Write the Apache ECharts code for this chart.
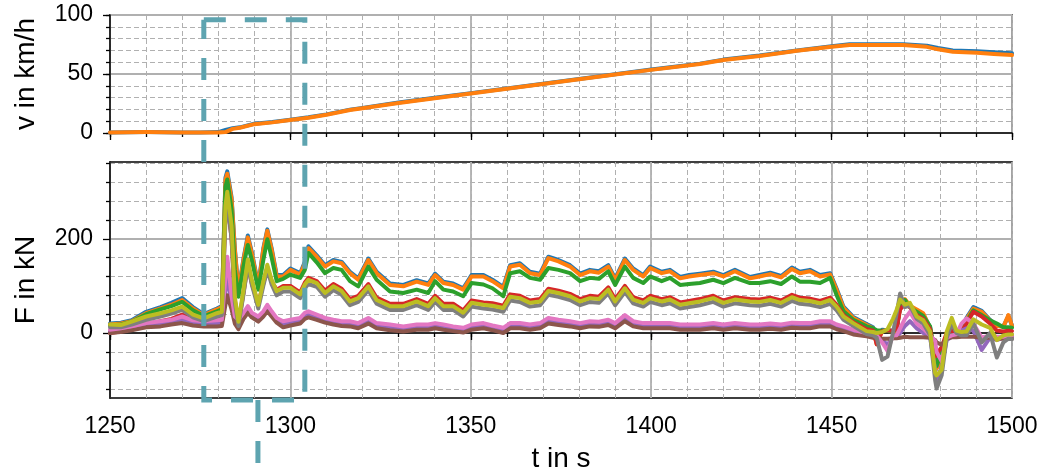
<!DOCTYPE html>
<html>
<head>
<meta charset="utf-8">
<script src="https://cdn.jsdelivr.net/npm/echarts@6/dist/echarts.min.js"></script>
<style>
  html, body { margin: 0; padding: 0; background: #fff; }
  #chart { width: 1041px; height: 475px; }
</style>
</head>
<body>
<div id="chart"></div>
<script>
// speed (top panel)
const tV = [1250, 1260, 1270, 1275, 1280, 1282, 1284, 1286, 1290, 1295,
  1300, 1305, 1310, 1316.5, 1320, 1330, 1340, 1350, 1360, 1370,
  1380, 1390, 1400, 1413.5, 1420, 1430, 1440.4, 1450, 1455, 1459.8,
  1465, 1469.8, 1476.4, 1479.5, 1483.6, 1490.3, 1495, 1500];
const vBlue = [0.5, 0.8, 0.5, 0.5, 0.8, 2.5, 4, 4.8, 7.8, 9.3,
  11.3, 13.3, 15.8, 19.8, 21.3, 25.8, 29.8, 33.8, 37.8, 41.8,
  45.8, 49.8, 53.8, 58.8, 62.2, 65.6, 70, 73.5, 75.3, 75.3,
  75.2, 75.2, 74, 72, 70, 69.3, 68.5, 67.5];
const vOrange = [0.5, 0.8, 0.5, 0.5, 0.5, 0.8, 3.5, 4.5, 7.5, 9,
  11, 13, 15.5, 19.5, 21, 25.5, 29.5, 33.5, 37.5, 41.5,
  45.5, 49.5, 53.5, 58.5, 61.9, 65.3, 69.7, 73, 74.5, 74.5,
  74.5, 74.5, 73, 70.9, 68.9, 68, 67, 66];

// forces (bottom panel)
const tF = [1250, 1253, 1256, 1260, 1264, 1267, 1270, 1273, 1276, 1279.6,
  1281, 1282, 1282.5, 1283.7, 1284.6, 1285.6, 1287, 1288.2, 1289.3, 1291.1,
  1292.5, 1293.6, 1294.8, 1296.2, 1298, 1300, 1302.7, 1304, 1305, 1307.3,
  1309.6, 1311.9, 1314.2, 1316.5, 1318.8, 1321.6, 1323.9, 1327.6, 1331.3, 1335,
  1338.2, 1340.1, 1342.4, 1345.1, 1347.9, 1350.2, 1353.5, 1356, 1359, 1360.9,
  1363.6, 1366.4, 1369.2, 1371.5, 1374.3, 1377.5, 1380.3, 1383, 1385.5, 1388.1,
  1390, 1392.7, 1395, 1397.8, 1399.7, 1402.9, 1405.2, 1408, 1410.5, 1413.5,
  1417.2, 1420, 1423.2, 1427.4, 1430, 1433, 1436, 1439, 1441.2, 1444,
  1446.8, 1449.6, 1451.4, 1453.3, 1456, 1459.7, 1461.5, 1462.5, 1464, 1465.5,
  1467, 1468, 1469, 1470.3, 1471.7, 1473.6, 1475.4, 1477.3, 1478.7, 1479.1,
  1480.5, 1481.9, 1483.3, 1484.6, 1486, 1487.4, 1489.3, 1491.6, 1493.9, 1495.8,
  1497.6, 1499, 1500];
const fBlue = [20, 22, 27, 45, 55, 64, 74, 55, 40, 52,
  57, 330, 343, 288, 180, 90, 158, 207, 172, 102,
  180, 220, 180, 123, 123, 137, 127, 151, 184, 165,
  144, 155, 151, 130, 116, 158, 130, 105, 102, 112,
  105, 126, 109, 105, 95, 123, 123, 113, 98, 144,
  148, 130, 126, 162, 155, 144, 126, 134, 131, 144,
  116, 158, 137, 123, 141, 130, 134, 119, 123, 126,
  130, 123, 134, 119, 123, 128, 121, 139, 130, 134,
  123, 127, 94, 56, 34, 19, 12, -20, 7, 6,
  5, 7, 58, 70, 57, 48, 40, 12, -65, -70,
  -55, -8, 3, 4, 3, 32, 55, 47, 28, 16,
  14, 36, 16];
const fOrange = [18, 20, 25, 42, 52, 60, 70, 52, 38, 50,
  55, 325, 338, 283, 177, 87, 155, 203, 169, 99,
  177, 217, 177, 120, 120, 134, 124, 148, 180, 162,
  141, 152, 148, 127, 113, 155, 127, 102, 99, 109,
  102, 123, 106, 102, 92, 120, 120, 110, 95, 141,
  145, 127, 123, 159, 152, 141, 123, 131, 128, 141,
  113, 155, 134, 120, 138, 127, 131, 116, 120, 123,
  127, 120, 131, 116, 120, 125, 118, 136, 127, 131,
  120, 124, 91, 53, 32, 17, 10, -24, 5, 4,
  3, 5, 60, 72, 58, 50, 42, 10, -70, -75,
  -60, -10, 2, 3, 2, 30, 52, 45, 27, 15,
  13, 38, 15];
const fGreen = [16, 18, 24, 40, 50, 57, 66, 48, 36, 46,
  50, 310, 326, 262, 135, 77, 142, 187, 155, 92,
  155, 199, 160, 110, 115, 124, 117, 134, 170, 150,
  127, 138, 134, 110, 99, 141, 113, 88, 85, 92,
  85, 110, 92, 88, 78, 106, 103, 95, 78, 127,
  131, 117, 113, 138, 134, 127, 110, 117, 115, 131,
  102, 141, 117, 106, 120, 110, 117, 102, 104, 106,
  113, 106, 117, 106, 106, 110, 104, 120, 109, 109,
  106, 117, 80, 46, 28, 14, 10, 6, 5, 4,
  4, 8, 55, 70, 55, 45, 36, 14, -50, -70,
  -40, -8, 2, 2, 3, 25, 48, 38, 27, 20,
  12, 12, 11];
const fRed = [0, 3, 8, 18, 25, 30, 39, 30, 28, 35,
  38, 250, 280, 200, 70, 20, 85, 145, 105, 62,
  105, 138, 110, 92, 100, 100, 86, 107, 117, 110,
  90, 104, 94, 72, 79, 104, 75, 62, 62, 72,
  62, 79, 62, 62, 48, 69, 65, 63, 58, 82,
  79, 69, 72, 94, 90, 83, 72, 79, 77, 97,
  72, 100, 76, 69, 79, 72, 76, 65, 68, 72,
  79, 69, 76, 72, 71, 75, 69, 81, 75, 73,
  68, 75, 60, 38, 23, 8, 5, -24, 4, 6,
  5, 8, 50, 62, 55, 38, 30, 8, -50, -45,
  -30, 0, 5, 4, 3, 20, 45, 35, 20, 5,
  3, 5, 4];
const fPurple = [3, 6, 10, 16, 19, 22, 28, 21, 19, 20,
  21, 90, 120, 63, 27, 18, 36, 50, 38, 30,
  40, 53, 40, 27, 18, 22, 26, 36, 40, 33,
  27, 23, 20, 19, 15, 26, 15, 12, 8, 12,
  12, 15, 12, 9, 6, 12, 15, 11, 5, 15,
  15, 12, 15, 26, 22, 19, 15, 19, 18, 22,
  15, 31, 19, 15, 15, 15, 15, 12, 12, 12,
  15, 12, 15, 12, 12, 14, 12, 16, 15, 15,
  19, 19, 13, 9, 2, -4, -6, -8, -15, -25,
  -8, -8, 0, 15, 25, 10, 0, -8, -80, -110,
  -70, -15, -8, -6, 5, 10, 5, -36, -10, -15,
  -10, -8, -8];
const fBrown = [0, 2, 6, 12, 14, 18, 21, 16, 14, 14,
  15, 60, 80, 50, 20, 8, 30, 43, 33, 24,
  35, 46, 35, 22, 12, 16, 20, 30, 33, 28,
  22, 18, 15, 14, 10, 20, 10, 6, 3, 7,
  7, 10, 7, 4, 1, 7, 10, 6, 0, 10,
  10, 7, 10, 20, 17, 14, 10, 14, 13, 17,
  10, 25, 14, 10, 10, 10, 10, 7, 7, 7,
  10, 7, 10, 7, 7, 9, 7, 11, 10, 10,
  14, 14, 8, 4, -3, -7, -10, -11, -12, -12,
  -11, -11, -10, -8, -9, -9, -9, -10, -15, -20,
  -25, -12, -9, -9, -8, -8, -8, -10, -10, -12,
  -12, -12, -12];
const fPink = [7, 10, 14, 21, 25, 28, 35, 27, 25, 27,
  28, 120, 162, 77, 35, 28, 43, 57, 43, 35,
  46, 60, 46, 32, 25, 28, 32, 43, 46, 39,
  32, 28, 25, 25, 21, 32, 21, 18, 14, 18,
  18, 21, 18, 14, 11, 18, 21, 16, 11, 21,
  21, 18, 21, 32, 28, 25, 21, 25, 24, 28,
  21, 38, 25, 21, 21, 21, 21, 18, 18, 18,
  21, 18, 21, 18, 18, 20, 18, 22, 21, 21,
  25, 25, 18, 14, 7, 0, -3, -5, -20, -38,
  -5, -5, 10, 30, 45, 20, 10, -5, -17, -40,
  -60, -10, -5, -3, 20, 31, 20, -10, -5, -8,
  -8, -5, -5];
const fGray = [12, 12, 18, 28, 35, 41, 49, 33, 25, 35,
  38, 240, 280, 200, 65, 15, 82, 145, 103, 52,
  100, 135, 103, 80, 88, 88, 74, 95, 104, 98,
  77, 91, 81, 59, 66, 91, 62, 49, 49, 59,
  49, 66, 49, 49, 35, 56, 52, 50, 45, 69,
  66, 56, 59, 81, 77, 70, 59, 66, 64, 84,
  59, 87, 63, 56, 66, 59, 63, 52, 55, 59,
  66, 56, 63, 59, 58, 62, 56, 68, 62, 60,
  55, 62, 48, 28, 15, -2, -5, -10, -57, -50,
  0, 40, 84, 55, 58, 30, 20, -5, -100, -118,
  -90, -10, 20, 0, -5, -5, 20, -20, 0, -52,
  -20, -12, -13];
const fOlive = [18, 17, 24, 35, 42, 48, 56, 39, 31, 42,
  45, 270, 300, 227, 77, 24, 92, 156, 113, 60,
  110, 145, 113, 89, 96, 96, 82, 103, 113, 106,
  85, 99, 89, 67, 74, 99, 70, 57, 57, 67,
  57, 74, 57, 57, 43, 64, 60, 58, 53, 77,
  74, 64, 67, 89, 85, 78, 67, 74, 72, 92,
  67, 95, 71, 64, 74, 67, 71, 60, 63, 67,
  74, 64, 71, 67, 66, 70, 64, 76, 70, 68,
  63, 70, 56, 35, 21, 4, 2, 0, 2, 8,
  30, 49, 71, 60, 64, 35, 27, 3, -85, -90,
  -78, 3, 32, 5, 2, 3, 29, 18, 11, -15,
  -5, -3, -3];

// ticks
const fMajor = [0, 200];
const fMinor = [-120, -80, -40, 40, 80, 120, 160, 240, 280, 320, 360];

// zoom box (data units)
const boxT = [1276, 1304];
const boxV = 96;
const boxF = -142;
const linkT = 1291;
const linkF = -340;

const FONT = 'Liberation Sans, Arial, sans-serif';
const GRID_C = '#b0b0b0';
const tick = (len) => ({ show: true, inside: false, length: len, lineStyle: { color: '#000', width: 1.3 } });
const minorSplit = { show: true, lineStyle: { color: GRID_C, width: 1, type: [5, 3] } };
const majorSplit = { show: true, lineStyle: { color: GRID_C, width: 1.8 } };
const noLine = { show: false };
const blackLine = { show: true, lineStyle: { color: '#000', width: 1.5 } };
const lbl = (margin) => ({ show: true, color: '#000', fontSize: 23, fontFamily: FONT, margin,
  formatter: (v) => String(v) });
const titleStyle = { fontSize: 28, color: '#000', fontFamily: FONT };

const xMinor = (g) => ({
  type: 'value', gridIndex: g, position: 'bottom', min: 1250, max: 1500, interval: 10,
  axisLine: noLine, axisTick: tick(4), axisLabel: { show: false }, splitLine: minorSplit
});
const xMajor = (g, withLabels) => ({
  type: 'value', gridIndex: g, position: 'bottom', min: 1250, max: 1500, interval: 50,
  axisLine: blackLine, axisTick: tick(7),
  axisLabel: withLabels ? lbl(17) : { show: false }, splitLine: majorSplit
});

const pairs = (t, arr) => t.map((x, i) => [x, arr[i]]);
const line = (name, color, t, arr, xi, yi) => ({
  name, type: 'line', xAxisIndex: xi, yAxisIndex: yi, data: pairs(t, arr),
  showSymbol: false, symbol: 'none', clip: true,
  lineStyle: { color, width: 4, join: 'round', cap: 'round' },
  emphasis: { disabled: true }
});

const chart = echarts.init(document.getElementById('chart'));
const option = {
  animation: false,
  backgroundColor: '#fff',
  grid: [
    { left: 110, right: 29, top: 15, height: 118, show: true, borderColor: '#000', borderWidth: 1.5, backgroundColor: 'transparent' },
    { left: 110, right: 29, top: 162, height: 236, show: true, borderColor: '#000', borderWidth: 1.5, backgroundColor: 'transparent' }
  ],
  xAxis: [
    xMinor(0), xMajor(0, false),
    xMinor(1),
    Object.assign(xMajor(1, true), {
      name: 't in s', nameLocation: 'middle', nameGap: 47, nameTextStyle: titleStyle
    })
  ],
  yAxis: [
    { type: 'value', gridIndex: 0, position: 'left', min: 0, max: 100, interval: 10,
      axisLine: noLine, axisTick: tick(4), axisLabel: { show: false }, splitLine: minorSplit },
    { type: 'value', gridIndex: 0, position: 'left', min: 0, max: 100, interval: 50,
      axisLine: blackLine, axisTick: tick(7), axisLabel: lbl(17), splitLine: majorSplit,
      name: 'v in km/h', nameLocation: 'middle', nameGap: 70, nameTextStyle: titleStyle },
    { type: 'value', gridIndex: 1, position: 'left', min: -138, max: 363,
      axisLine: noLine,
      axisTick: Object.assign(tick(4), { customValues: fMinor }),
      axisLabel: { show: false }, splitLine: minorSplit },
    { type: 'value', gridIndex: 1, position: 'left', min: -138, max: 363,
      axisLine: blackLine,
      axisTick: Object.assign(tick(7), { customValues: fMajor }),
      axisLabel: Object.assign(lbl(17), { customValues: fMajor }),
      splitLine: majorSplit,
      name: 'F in kN', nameLocation: 'middle', nameGap: 70, nameTextStyle: titleStyle }
  ],
  series: [
    line('v1', '#1f77b4', tV, vBlue, 1, 1),
    line('v2', '#ff7f0e', tV, vOrange, 1, 1),
    line('F1', '#1f77b4', tF, fBlue, 3, 3),
    line('F2', '#ff7f0e', tF, fOrange, 3, 3),
    line('F3', '#2ca02c', tF, fGreen, 3, 3),
    line('F4', '#d62728', tF, fRed, 3, 3),
    line('F5', '#9467bd', tF, fPurple, 3, 3),
    line('F6', '#8c564b', tF, fBrown, 3, 3),
    line('F7', '#e377c2', tF, fPink, 3, 3),
    line('F8', '#7f7f7f', tF, fGray, 3, 3),
    line('F9', '#bcbd22', tF, fOlive, 3, 3)
  ]
};
chart.setOption(option);

// dashed zoom box, placed through the axes' own scales
const px = (t) => chart.convertToPixel({ xAxisIndex: 1 }, t);
const x1 = px(boxT[0]), x2 = px(boxT[1]), xl = px(linkT);
const y1 = chart.convertToPixel({ yAxisIndex: 1 }, boxV);
const y2 = chart.convertToPixel({ yAxisIndex: 3 }, boxF);
const y3 = chart.convertToPixel({ yAxisIndex: 3 }, linkF);
const boxStyle = { stroke: '#5ea4b0', lineWidth: 5, lineDash: [22, 19], fill: null };
chart.setOption({
  graphic: [
    { type: 'polyline', z: 100, silent: true,
      shape: { points: [[x1, y1], [x2, y1], [x2, y2], [x1, y2], [x1, y1]] }, style: boxStyle },
    { type: 'polyline', z: 100, silent: true,
      shape: { points: [[xl, y2], [xl, y3]] }, style: boxStyle }
  ]
});
</script>
</body>
</html>
